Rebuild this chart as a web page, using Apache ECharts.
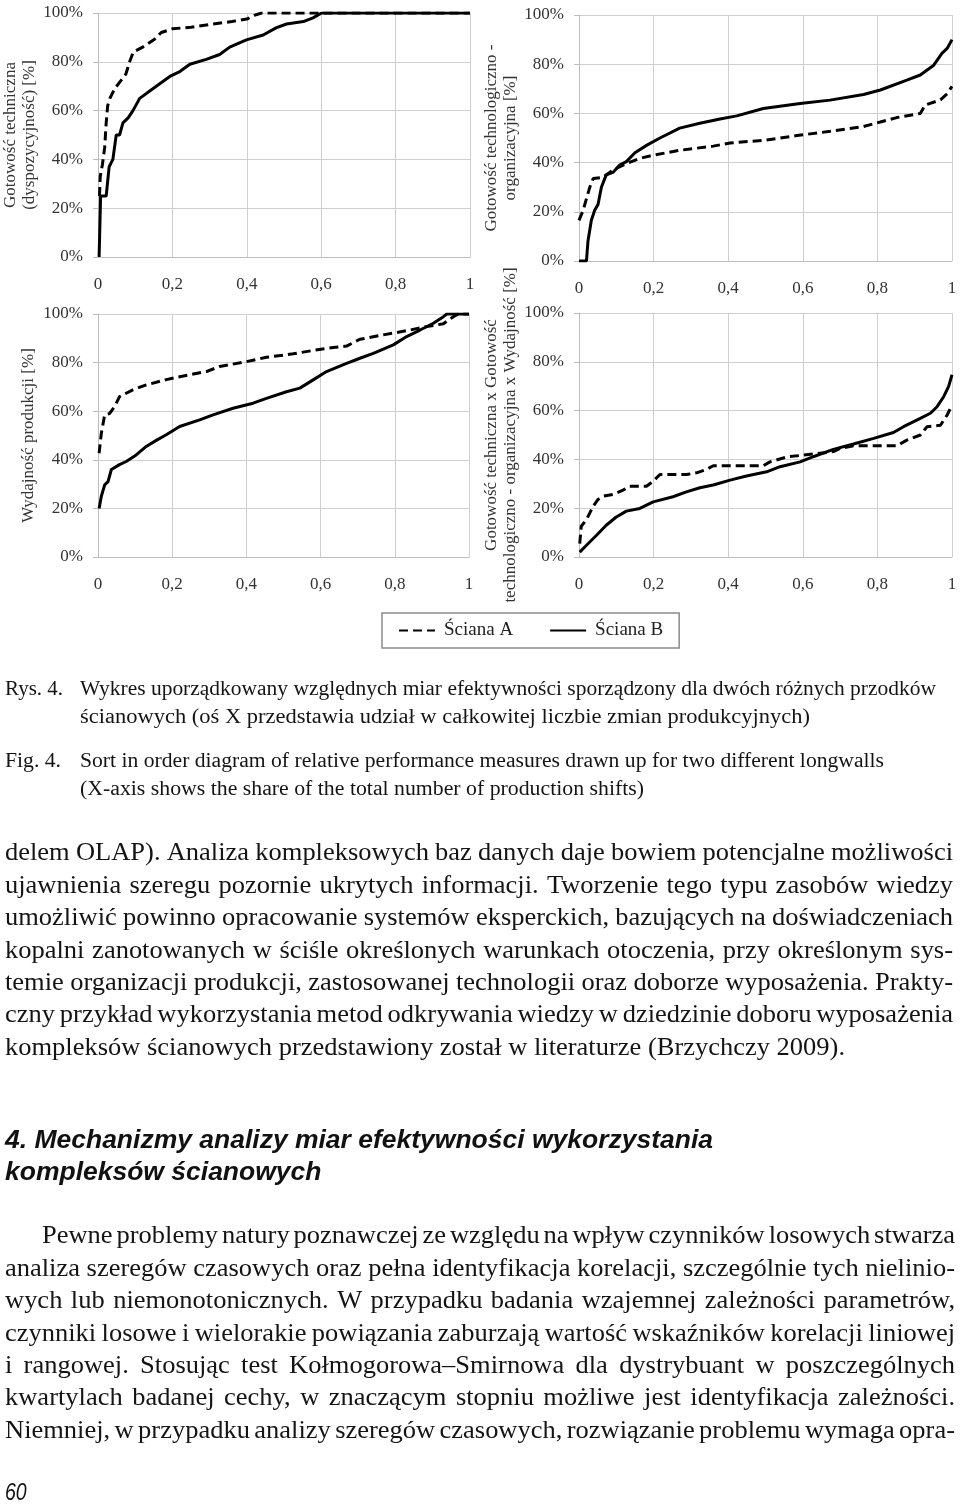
<!DOCTYPE html>
<html><head><meta charset="utf-8">
<script src="https://cdn.jsdelivr.net/npm/echarts@6/dist/echarts.min.js"></script>
<style>html,body{margin:0;padding:0;background:#fff}#c{width:960px;height:1505px}</style>
</head><body><div id="c"></div>
<script>
// ---------- DATA ----------
const seriesNames = ['Ściana A', 'Ściana B'];
const xTickValues = [0, 0.2, 0.4, 0.6, 0.8, 1];
const yTickValues = [0, 20, 40, 60, 80, 100];

const yAxisTitles = [
  'Gotowość techniczna\n(dyspozycyjność) [%]',
  'Gotowość technologiczno -\norganizacyjna [%]',
  'Wydajność produkcji [%]',
  'Gotowość techniczna x Gotowość\ntechnologiczno - organizacyjna x Wydajność [%]'
];

// Chart 1: Gotowość techniczna
const chart1A = [[0.004,25],[0.006,33],[0.012,38],[0.018,45],[0.022,55],[0.026,62],[0.032,65],[0.045,69],[0.06,72],[0.075,75],[0.085,80],[0.095,84],[0.12,86],[0.15,89],[0.17,92],[0.2,93.5],[0.25,94.2],[0.31,95.5],[0.36,96.5],[0.4,97.5],[0.42,99],[0.44,100],[1,100]];
const chart1B = [[0.003,0],[0.007,25],[0.022,25],[0.03,37],[0.04,40],[0.049,50],[0.058,50],[0.067,55],[0.081,57],[0.094,60],[0.112,65],[0.139,68],[0.166,71],[0.193,74],[0.22,76],[0.247,79],[0.291,81],[0.327,83],[0.354,86],[0.399,89],[0.444,91],[0.48,94],[0.507,95.5],[0.552,96.5],[0.578,98],[0.601,100],[1,100]];

// Chart 2: Gotowość technologiczno-organizacyjna
const chart2A = [[0,16.5],[0.011,20.6],[0.029,30],[0.038,33.5],[0.064,34],[0.091,37],[0.127,39.6],[0.163,41.7],[0.199,43],[0.27,45],[0.36,46.7],[0.405,48],[0.494,49],[0.584,51],[0.673,52.7],[0.763,54.7],[0.808,56.5],[0.852,58.3],[0.915,60],[0.928,63.4],[0.969,65.5],[0.987,68],[1,71]];
const chart2B = [[0,0],[0.02,0],[0.024,8],[0.033,16.5],[0.042,20.6],[0.051,23],[0.06,30],[0.073,35],[0.091,36],[0.109,39],[0.127,40.4],[0.15,44],[0.181,47],[0.217,50],[0.27,54],[0.324,56],[0.378,57.7],[0.423,59],[0.494,62],[0.593,64],[0.673,65.4],[0.763,67.7],[0.808,69.5],[0.879,73.5],[0.915,75.6],[0.951,79.6],[0.973,84.4],[0.987,86.4],[1,90]];

// Chart 3: Wydajność produkcji
const chart3A = [[0.003,42.7],[0.009,51],[0.018,58.5],[0.031,59],[0.045,62],[0.058,66],[0.094,68.8],[0.13,70.8],[0.184,73],[0.247,75],[0.292,76.3],[0.328,78.4],[0.4,80.4],[0.454,82.2],[0.526,83.6],[0.58,85],[0.634,86.2],[0.67,86.8],[0.706,89.6],[0.769,91.4],[0.841,93.4],[0.886,94.8],[0.931,96],[0.958,98.9],[0.971,100],[1,100]];
const chart3B = [[0.003,20],[0.009,25],[0.018,29.7],[0.027,31],[0.036,36],[0.058,38],[0.076,39.3],[0.103,42],[0.13,45.5],[0.157,48],[0.184,50.3],[0.22,53.7],[0.274,56.4],[0.31,58.5],[0.364,61.2],[0.418,63.3],[0.454,65.3],[0.508,68],[0.544,69.5],[0.58,72.9],[0.616,76.3],[0.67,79.7],[0.706,81.8],[0.742,83.8],[0.796,87.3],[0.832,90.7],[0.868,93.4],[0.904,96.2],[0.931,98.9],[0.94,100],[1,100]];

// Chart 4: iloczyn wskaźników
const chart4A = [[0.002,5.5],[0.006,12.6],[0.02,15.3],[0.038,20.8],[0.051,23.6],[0.064,24.9],[0.091,25.6],[0.118,27.4],[0.136,29],[0.181,29],[0.199,31.1],[0.217,33.8],[0.288,33.8],[0.315,34.5],[0.342,35.9],[0.36,37.4],[0.494,37.4],[0.512,39],[0.557,41],[0.628,42.2],[0.682,43.2],[0.7,44.5],[0.736,45.6],[0.852,45.6],[0.879,47.9],[0.915,50],[0.933,53.4],[0.969,54],[0.987,58.2],[1,62.3]];
const chart4B = [[0.002,2],[0.02,4.8],[0.047,8.9],[0.073,13],[0.1,16.4],[0.127,18.8],[0.163,19.9],[0.199,22.6],[0.252,24.7],[0.288,26.7],[0.324,28.4],[0.36,29.5],[0.405,31.5],[0.449,33.2],[0.503,34.9],[0.539,37],[0.593,39],[0.628,41.1],[0.682,44.1],[0.736,46.3],[0.79,48.6],[0.843,51],[0.87,53.4],[0.915,56.8],[0.942,58.9],[0.96,61.6],[0.978,65.8],[0.991,69.9],[1,74.7]];

// ---------- TEXT ----------
const captionPLLabel = 'Rys. 4.';
const captionPL = ['Wykres uporządkowany względnych miar efektywności sporządzony dla dwóch różnych przodków',
  'ścianowych (oś X przedstawia udział w całkowitej liczbie zmian produkcyjnych)'];
const captionENLabel = 'Fig. 4.';
const captionEN = ['Sort in order diagram of relative performance measures drawn up for two different longwalls',
  '(X-axis shows the share of the total number of production shifts)'];
const paragraph1 = [
  'delem OLAP). Analiza kompleksowych baz danych daje bowiem potencjalne możliwości',
  'ujawnienia szeregu pozornie ukrytych informacji. Tworzenie tego typu zasobów wiedzy',
  'umożliwić powinno opracowanie systemów eksperckich, bazujących na doświadczeniach',
  'kopalni zanotowanych w ściśle określonych warunkach otoczenia, przy określonym sys-',
  'temie organizacji produkcji, zastosowanej technologii oraz doborze wyposażenia. Prakty-',
  'czny przykład wykorzystania metod odkrywania wiedzy w dziedzinie doboru wyposażenia',
  'kompleksów ścianowych przedstawiony został w literaturze (Brzychczy 2009).'];
const heading = ['4. Mechanizmy analizy miar efektywności wykorzystania', 'kompleksów ścianowych'];
const paragraph2 = [
  'Pewne problemy natury poznawczej ze względu na wpływ czynników losowych stwarza',
  'analiza szeregów czasowych oraz pełna identyfikacja korelacji, szczególnie tych nielinio-',
  'wych lub niemonotonicznych. W przypadku badania wzajemnej zależności parametrów,',
  'czynniki losowe i wielorakie powiązania zaburzają wartość wskaźników korelacji liniowej',
  'i rangowej. Stosując test Kołmogorowa–Smirnowa dla dystrybuant w poszczególnych',
  'kwartylach badanej cechy, w znaczącym stopniu możliwe jest identyfikacja zależności.',
  'Niemniej, w przypadku analizy szeregów czasowych, rozwiązanie problemu wymaga opra-'];
const pageNumber = '60';

// ---------- LAYOUT ----------
const grids = [
  {left: 98, top: 13, width: 372, height: 244},
  {left: 579, top: 15, width: 373, height: 246},
  {left: 98, top: 314, width: 371, height: 243},
  {left: 579, top: 313, width: 373, height: 244}
];
const nameGaps = [54, 54, 60, 54];
const data = [[chart1A, chart1B], [chart2A, chart2B], [chart3A, chart3B], [chart4A, chart4B]];

const GRID_C = '#cfcfcf';
const LABEL_FONT = 'Liberation Serif';
function fmtX(v) { if (v === 0 || v === 1) return String(v); return v.toFixed(1).replace('.', ','); }

const xAxes = [], yAxes = [], series = [];
grids.forEach((g, i) => {
  xAxes.push({
    type: 'value', gridIndex: i, min: 0, max: 1, interval: 0.2,
    axisLine: {show: true, lineStyle: {color: '#bdbdbd', width: 1}},
    axisTick: {show: false},
    splitLine: {show: true, lineStyle: {color: GRID_C, width: 1}},
    axisLabel: {margin: 19, fontFamily: LABEL_FONT, fontSize: 17, color: '#333', formatter: fmtX}
  });
  yAxes.push({
    type: 'value', gridIndex: i, min: 0, max: 100, interval: 20,
    axisLine: {show: true, lineStyle: {color: '#bdbdbd', width: 1}},
    axisTick: {show: true, length: 5, lineStyle: {color: '#bdbdbd'}},
    splitLine: {show: true, lineStyle: {color: GRID_C, width: 1}},
    axisLabel: {margin: 15, fontFamily: LABEL_FONT, fontSize: 17, color: '#333', formatter: v => v + '%'},
    name: yAxisTitles[i], nameLocation: 'middle', nameRotate: 90, nameGap: nameGaps[i],
    nameTextStyle: {fontFamily: LABEL_FONT, fontSize: 17, color: '#333', lineHeight: 19}
  });
  series.push({
    name: seriesNames[0], type: 'line', xAxisIndex: i, yAxisIndex: i, data: data[i][0],
    symbol: 'none', showSymbol: false, silent: true, z: 2,
    lineStyle: {color: '#000', width: 3, type: [9, 5]}, itemStyle: {color: '#000'}
  });
  series.push({
    name: seriesNames[1], type: 'line', xAxisIndex: i, yAxisIndex: i, data: data[i][1],
    symbol: 'none', showSymbol: false, silent: true, z: 3,
    lineStyle: {color: '#000', width: 3, type: 'solid'}, itemStyle: {color: '#000'}
  });
});

// ---------- TEXT LAYOUT (graphic) ----------
const mctx = document.createElement('canvas').getContext('2d');
function measure(text, font) { mctx.font = font; return mctx.measureText(text).width; }
const graphics = [];
function placeLine(text, x0, x1, y, font, s, justify, fill) {
  const words = text.split(' ');
  const widths = words.map(w => measure(w, font) * s);
  const total = widths.reduce((a, b) => a + b, 0);
  const gap = (justify && words.length > 1) ? (x1 - x0 - total) / (words.length - 1) : measure(' ', font) * s;
  let x = x0;
  words.forEach((w, k) => {
    graphics.push({type: 'text', x: x, y: y, scaleX: s, silent: true,
      style: {text: w, font: font, fill: fill || '#141414', verticalAlign: 'middle', align: 'left'}});
    x += widths[k] + gap;
  });
}
function fitLine(text, x0, x1, y, font, fill) {
  const s = (x1 - x0) / measure(text, font);
  graphics.push({type: 'text', x: x0, y: y, scaleX: s, silent: true,
    style: {text: text, font: font, fill: fill || '#141414', verticalAlign: 'middle', align: 'left'}});
}
// captions
const capFont = '20px "Liberation Serif"';
fitLine(captionPLLabel, 5, 63, 690, capFont);
fitLine(captionPL[0], 80, 936, 690, capFont);
fitLine(captionPL[1], 80, 810, 718, capFont);
fitLine(captionENLabel, 5, 61, 762, capFont);
fitLine(captionEN[0], 80, 884, 762, capFont);
fitLine(captionEN[1], 80, 644, 790, capFont);
// paragraph 1
const bodyFont = '24.5px "Liberation Serif"';
const bodyS = 840 / measure(paragraph1[6], bodyFont);
paragraph1.forEach((t, k) => placeLine(t, 5, 953, 854 + k * 32.4, bodyFont, bodyS, k < paragraph1.length - 1));
// heading
const headFont = 'italic bold 25px "Liberation Sans"';
fitLine(heading[0], 5, 713, 1141, headFont, '#111');
const headS = 708 / measure(heading[0], headFont);
placeLine(heading[1], 5, 400, 1173, headFont, headS, false, '#111');
// paragraph 2
paragraph2.forEach((t, k) => placeLine(t, k === 0 ? 42 : 5, 955, 1237 + k * 32.4, bodyFont, bodyS, true));
// page number
graphics.push({type: 'text', x: 5, y: 1494, silent: true, scaleX: 0.85,
  style: {text: pageNumber, font: 'italic 23px "Liberation Sans"', fill: '#141414', verticalAlign: 'middle', align: 'left'}});

const chart = echarts.init(document.getElementById('c'), null, {renderer: 'canvas'});
chart.setOption({
  animation: false,
  backgroundColor: '#fff',
  grid: grids.map(g => Object.assign({containLabel: false}, g)),
  xAxis: xAxes,
  yAxis: yAxes,
  series: series,
  legend: {
    data: seriesNames, left: 382, top: 613, orient: 'horizontal',
    padding: [8, 16, 8, 16], borderColor: '#8c8c8c', borderWidth: 1.5,
    itemWidth: 36, itemHeight: 4, itemGap: 36, selectedMode: false,
    itemStyle: {opacity: 0},
    textStyle: {fontFamily: LABEL_FONT, fontSize: 19, color: '#222', padding: [0, 0, 0, 4]}
  },
  graphic: graphics
});
</script></body></html>
